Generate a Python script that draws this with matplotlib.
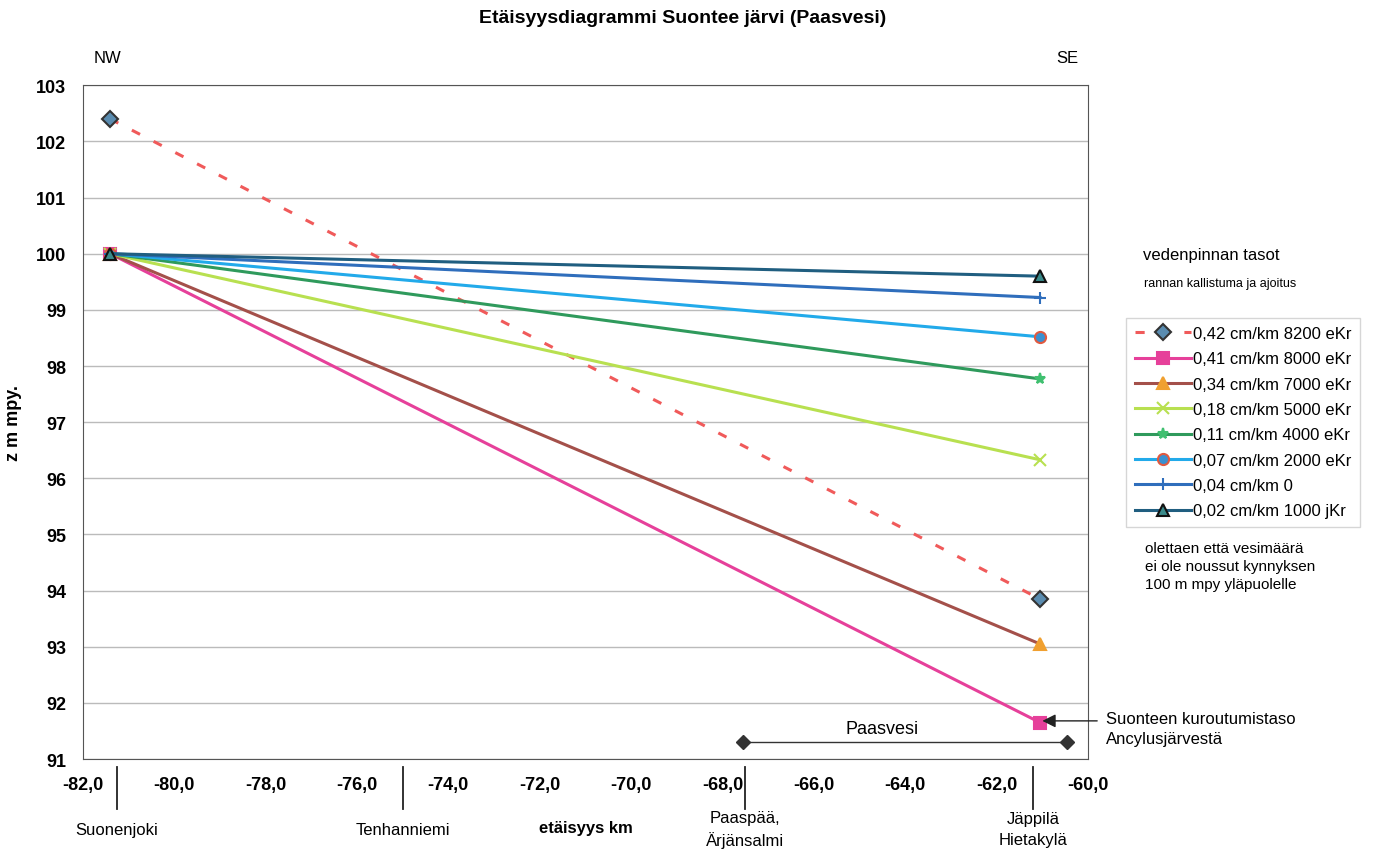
import matplotlib.pyplot as plt
from matplotlib.ticker import FuncFormatter

plt.rcParams['font.family'] = ['Liberation Sans', 'DejaVu Sans']

# distances (km) of the two profile ends
x_ends = [-81.4, -61.05]

labels = [
    "0,42 cm/km 8200 eKr",
    "0,41 cm/km 8000 eKr",
    "0,34 cm/km 7000 eKr",
    "0,18 cm/km 5000 eKr",
    "0,11 cm/km 4000 eKr",
    "0,07 cm/km 2000 eKr",
    "0,04 cm/km 0",
    "0,02 cm/km 1000 jKr",
]
z_start = [102.4, 100.0, 100.0, 100.0, 100.0, 100.0, 100.0, 100.0]
z_end = [93.85, 91.65, 93.05, 96.33, 97.77, 98.52, 99.22, 99.6]

colors = ["#f05a5a", "#e6409a", "#a4504a", "#b8e050", "#2f9a5c", "#22aaea", "#2f6ebc", "#205e80"]
markers = ["D", "s", "^", "x", "*", "o", "+", "^"]
mfc = ["#5a8cb0", "#e6409a", "#f0a030", "#b8e050", "#40c070", "#3a90d0", "#2f6ebc", "#3a8a8a"]
mec = ["#333333", "#e6409a", "#f0a030", "#b8e050", "#40c070", "#e05a40", "#2f6ebc", "#111111"]

# Paasvesi extent
paas_x = [-67.55, -60.45]
paas_z = [91.3, 91.3]

# places on the distance axis
place_x = [-81.25, -75.0, -67.5, -61.2]
place_names = ["Suonenjoki", "Tenhanniemi", "Paaspää,\nÄrjänsalmi", "Jäppilä\nHietakylä"]

fig = plt.figure(figsize=(13.79, 8.54), dpi=100)
ax = fig.add_axes([0.060, 0.110, 0.729, 0.789])

for i in range(len(labels)):
    ls = (0, (3, 5)) if i == 0 else "-"
    ax.plot(x_ends, [z_start[i], z_end[i]], color=colors[i], lw=2.2, ls=ls,
            marker=markers[i], ms=8, mfc=mfc[i], mec=mec[i], mew=1.5, label=labels[i])

ax.plot(paas_x, paas_z, color="#333333", lw=1, marker="D", ms=7, mfc="#333333")
ax.text(-64.5, 91.55, "Paasvesi", ha="center", va="center", fontsize=13)

ax.set_xlim(-82, -60)
ax.set_ylim(91, 103)
ax.set_xticks(range(-82, -59, 2))
ax.set_yticks(range(91, 104))
ax.xaxis.set_major_formatter(FuncFormatter(lambda v, p: f"{v:.1f}".replace(".", ",")))
ax.tick_params(length=0, labelsize=13, pad=12)
for t in ax.get_xticklabels() + ax.get_yticklabels():
    t.set_fontweight("bold")
ax.grid(axis="y", color="#bbbbbb", lw=1)
for s in ax.spines.values():
    s.set_color("#555555")
ax.set_ylabel("z m mpy.", fontsize=13, fontweight="bold", labelpad=10)

# place markers below the axis
xt = ax.get_xaxis_transform()
for px, name in zip(place_x, place_names):
    ax.plot([px, px], [-0.012, -0.074], transform=xt, color="#222222", lw=1.3, clip_on=False)
    ax.text(px, -0.104, name, transform=xt, ha="center", va="center",
            fontsize=12, linespacing=1.45)
ax.text(-71.0, -0.101, "etäisyys km", transform=xt, ha="center",
        va="center", fontsize=12, fontweight="bold")

fig.text(0.495, 0.978, "Etäisyysdiagrammi Suontee järvi (Paasvesi)", ha="center", va="center",
         fontsize=14, fontweight="bold")
fig.text(0.078, 0.932, "NW", ha="center", va="center", fontsize=12)
fig.text(0.774, 0.932, "SE", ha="center", va="center", fontsize=12)

# arrow to the isolation level
ax.annotate("", xy=(-61.0, 91.68), xytext=(-59.8, 91.68), annotation_clip=False,
            arrowprops=dict(arrowstyle="-|>", color="#222222", lw=1, mutation_scale=20,
                            shrinkA=0, shrinkB=0))
ax.text(-59.6, 91.55, "Suonteen kuroutumistaso\nAncylusjärvestä", ha="left", va="center",
        fontsize=12, linespacing=1.4, clip_on=False)

fig.text(0.878, 0.701, "vedenpinnan tasot", ha="center", va="center", fontsize=12)
fig.text(0.885, 0.668, "rannan kallistuma ja ajoitus", ha="center", va="center", fontsize=9)
leg = ax.legend(loc="upper left", bbox_to_anchor=(1.038, 0.655), fontsize=12, frameon=True,
                fancybox=False, edgecolor="#cccccc", handlelength=3.4, handletextpad=0.1,
                labelspacing=0.62, borderpad=0.5, borderaxespad=0)
fig.text(0.830, 0.336, "olettaen että vesimäärä\nei ole noussut kynnyksen\n100 m mpy yläpuolelle",
         ha="left", va="center", fontsize=11, linespacing=1.4)

fig.savefig("out.png", dpi=100)
